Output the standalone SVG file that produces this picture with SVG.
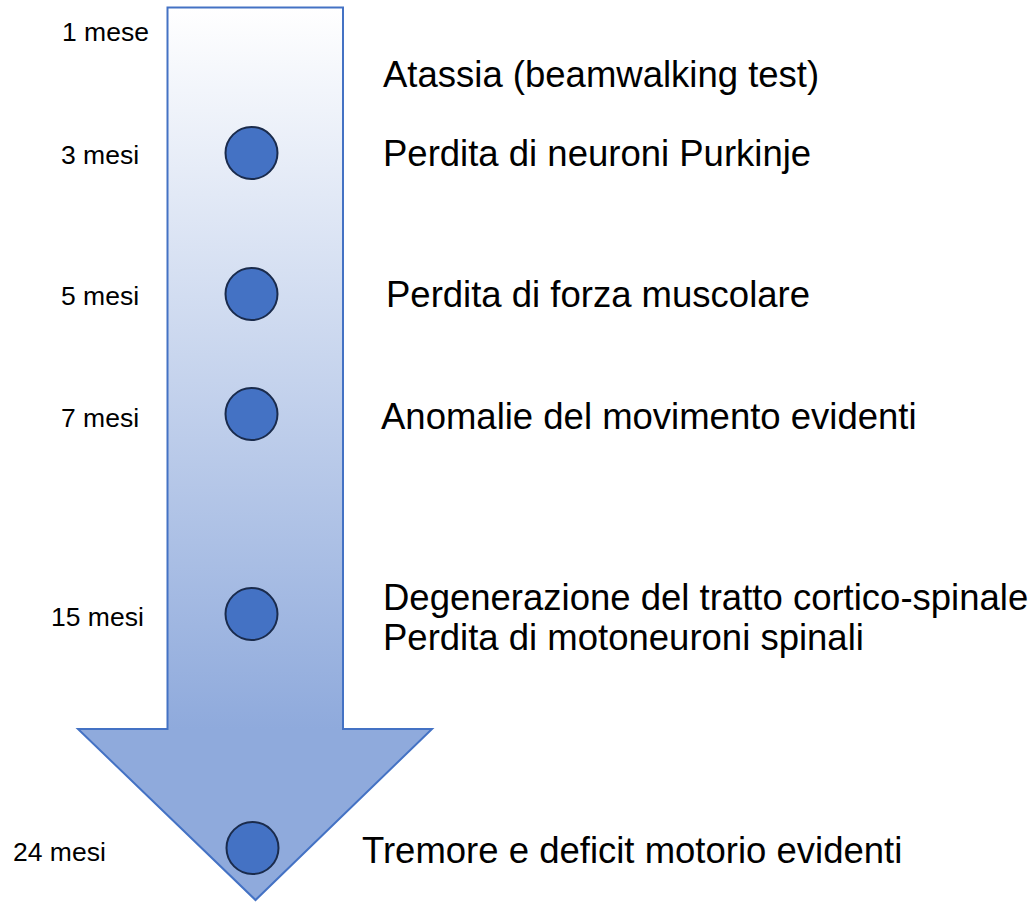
<svg xmlns="http://www.w3.org/2000/svg" width="1033" height="902" viewBox="0 0 1033 902">
<style>
.lbl{font-family:"Liberation Sans",Arial,sans-serif;font-size:26.5px;fill:#000}
.ev{font-family:"Liberation Sans",Arial,sans-serif;font-size:36.5px;fill:#000}
.dot{fill:#4472C4;stroke:#1A2B4C;stroke-width:2}
</style>
<defs>
<linearGradient id="g" x1="0" y1="7" x2="0" y2="729" gradientUnits="userSpaceOnUse">
<stop offset="0" stop-color="#FFFFFF"/>
<stop offset="1" stop-color="#8FAADC"/>
</linearGradient>
</defs>
<g id="arrow">
<path d="M167.5 7.5 H343 V729 H432 L255.5 900 L78 729 H167.5 Z" fill="url(#g)" stroke="#4472C4" stroke-width="2"/>
</g>
<g id="m1"><text class="lbl" x="62" y="41">1 mese</text><text class="ev" x="383" y="87">Atassia (beamwalking test)</text></g>
<g id="m3"><circle class="dot" cx="251.5" cy="153" r="26"/><text class="lbl" x="61" y="164">3 mesi</text><text class="ev" x="383" y="166">Perdita di neuroni Purkinje</text></g>
<g id="m5"><circle class="dot" cx="251.5" cy="294" r="26"/><text class="lbl" x="61" y="305">5 mesi</text><text class="ev" x="386" y="307">Perdita di forza muscolare</text></g>
<g id="m7"><circle class="dot" cx="251.5" cy="414" r="26"/><text class="lbl" x="61" y="427">7 mesi</text><text class="ev" x="381" y="429">Anomalie del movimento evidenti</text></g>
<g id="m15"><circle class="dot" cx="251.5" cy="614" r="26"/><text class="lbl" x="51" y="626">15 mesi</text><text class="ev" x="383" y="610">Degenerazione del tratto cortico-spinale</text><text class="ev" x="383" y="650">Perdita di motoneuroni spinali</text></g>
<g id="m24"><circle class="dot" cx="252.5" cy="848" r="26"/><text class="lbl" x="13" y="861">24 mesi</text><text class="ev" x="362" y="863">Tremore e deficit motorio evidenti</text></g>
<g id="connectors"/>
</svg>
